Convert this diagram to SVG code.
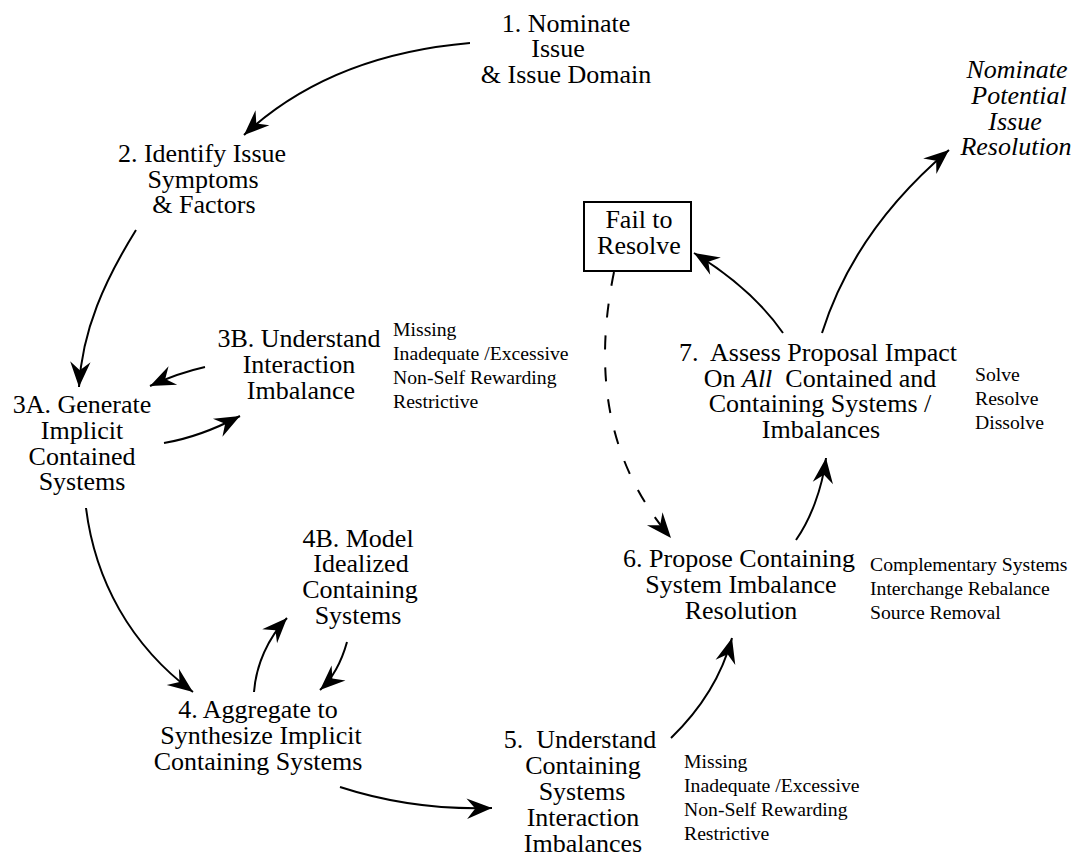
<svg xmlns="http://www.w3.org/2000/svg" width="1075" height="857" viewBox="0 0 1075 857">
  <defs>
    <style>
      .lbl { font-family: "Liberation Serif", "Times New Roman", serif; font-size: 26px; fill: #000; text-anchor: middle; }
      .it { font-style: italic; }
      .note { font-family: "Liberation Serif", "Times New Roman", serif; font-size: 19.7px; fill: #000; }
      .edge { fill: none; stroke: #000; stroke-width: 2; marker-end: url(#head); }
      .dash { stroke-dasharray: 14 18; }
      .box { fill: #fff; stroke: #000; stroke-width: 2; }
    </style>
    <marker id="head" markerUnits="userSpaceOnUse" markerWidth="30" markerHeight="24" viewBox="-22 -10 24 20" refX="0" refY="0" orient="auto">
      <path d="M0,0 L-21,-8.5 L-14,0 L-21,8.5 Z" fill="#000"/>
    </marker>
  </defs>
  <rect width="1075" height="857" fill="#fff"/>

  <g id="connectors">
    <path class="edge" d="M470,43 Q330,55 244,135"/>
    <path class="edge" d="M136,230 C105,280 82,330 79,387"/>
    <path class="edge" d="M205,367 Q178,373 150,386"/>
    <path class="edge" d="M164,443 Q200,437 240,416"/>
    <path class="edge" d="M86,508 C95,580 130,645 193,692"/>
    <path class="edge" d="M254,692 C256,665 268,638 287,618"/>
    <path class="edge" d="M347,642 C342,660 333,678 320,690"/>
    <path class="edge" d="M340,787 C380,800 430,810 492,808"/>
    <path class="edge" d="M671,738 C700,710 722,675 732,638"/>
    <path class="edge" d="M796,540 C810,520 822,490 826,458"/>
    <path class="edge" d="M783,333 C760,300 730,275 694,253"/>
    <path class="edge" d="M822,333 C845,260 890,200 949,150"/>
    <path class="edge dash" d="M614,272 C594,370 605,460 671,538"/>
  </g>

  <g id="n1">
    <text class="lbl" x="566" y="32">1. Nominate</text>
    <text class="lbl" x="558" y="57">Issue</text>
    <text class="lbl" x="566" y="83">&amp; Issue Domain</text>
  </g>

  <g id="n2">
    <text class="lbl" x="202" y="162">2. Identify Issue</text>
    <text class="lbl" x="203" y="188">Symptoms</text>
    <text class="lbl" x="204" y="213">&amp; Factors</text>
  </g>

  <g id="n3a">
    <text class="lbl" x="82" y="413">3A. Generate</text>
    <text class="lbl" x="82" y="439">Implicit</text>
    <text class="lbl" x="82" y="465">Contained</text>
    <text class="lbl" x="82" y="490">Systems</text>
  </g>

  <g id="n3b">
    <text class="lbl" x="299" y="347">3B. Understand</text>
    <text class="lbl" x="299" y="373">Interaction</text>
    <text class="lbl" x="301" y="399">Imbalance</text>
    <text class="note" x="393" y="336">Missing</text>
    <text class="note" x="393" y="360">Inadequate /Excessive</text>
    <text class="note" x="393" y="384">Non-Self Rewarding</text>
    <text class="note" x="393" y="408">Restrictive</text>
  </g>

  <g id="n4b">
    <text class="lbl" x="358" y="547">4B. Model</text>
    <text class="lbl" x="361" y="572">Idealized</text>
    <text class="lbl" x="360" y="598">Containing</text>
    <text class="lbl" x="358" y="624">Systems</text>
  </g>

  <g id="n4">
    <text class="lbl" x="258" y="718">4. Aggregate to</text>
    <text class="lbl" x="261" y="744">Synthesize Implicit</text>
    <text class="lbl" x="258" y="770">Containing Systems</text>
  </g>

  <g id="n5">
    <text class="lbl" x="580" y="748" xml:space="preserve">5.  Understand</text>
    <text class="lbl" x="583" y="774">Containing</text>
    <text class="lbl" x="582" y="800">Systems</text>
    <text class="lbl" x="583" y="826">Interaction</text>
    <text class="lbl" x="583" y="852">Imbalances</text>
    <text class="note" x="684" y="768">Missing</text>
    <text class="note" x="684" y="792">Inadequate /Excessive</text>
    <text class="note" x="684" y="816">Non-Self Rewarding</text>
    <text class="note" x="684" y="840">Restrictive</text>
  </g>

  <g id="n6">
    <text class="lbl" x="739" y="567">6. Propose Containing</text>
    <text class="lbl" x="741" y="593">System Imbalance</text>
    <text class="lbl" x="741" y="619">Resolution</text>
    <text class="note" x="870" y="571">Complementary Systems</text>
    <text class="note" x="870" y="595">Interchange Rebalance</text>
    <text class="note" x="870" y="619">Source Removal</text>
  </g>

  <g id="n7">
    <text class="lbl" x="818" y="361" xml:space="preserve">7.  Assess Proposal Impact</text>
    <text class="lbl" x="820" y="387" xml:space="preserve">On <tspan class="it">All</tspan>  Contained and</text>
    <text class="lbl" x="820" y="412">Containing Systems /</text>
    <text class="lbl" x="821" y="438">Imbalances</text>
    <text class="note" x="975" y="381">Solve</text>
    <text class="note" x="975" y="405">Resolve</text>
    <text class="note" x="975" y="429">Dissolve</text>
  </g>

  <g id="fail">
    <rect class="box" x="584" y="202" width="107" height="69"/>
    <text class="lbl" x="639" y="228">Fail to</text>
    <text class="lbl" x="639" y="254">Resolve</text>
  </g>

  <g id="resolution">
    <text class="lbl it" x="1017" y="78">Nominate</text>
    <text class="lbl it" x="1019" y="104">Potential</text>
    <text class="lbl it" x="1015" y="130">Issue</text>
    <text class="lbl it" x="1016" y="155">Resolution</text>
  </g>
</svg>
